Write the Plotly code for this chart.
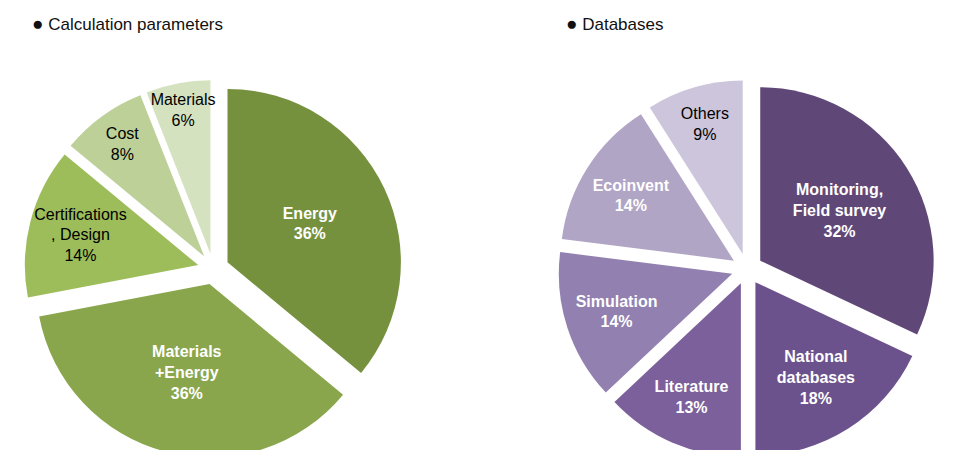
import plotly.graph_objects as go

# Calculation parameters
calc_labels = ["Energy", "Materials<br>+Energy", "Certifications<br>, Design", "Cost", "Materials"]
calc_values = [36, 36, 14, 8, 6]
calc_colors = ["#76913E", "#89A64C", "#9DBC5A", "#BCD098", "#D5E2BF"]
calc_textcol = ["white", "white", "black", "black", "black"]
calc_bold = [True, True, False, False, False]

# Databases
db_labels = ["Monitoring,<br>Field survey", "National<br>databases", "Literature",
             "Simulation", "Ecoinvent", "Others"]
db_values = [32, 18, 13, 14, 14, 9]
db_colors = ["#5F4878", "#6C528C", "#7B609B", "#9180B0", "#B1A5C6", "#CDC5DB"]
db_textcol = ["white", "white", "white", "white", "white", "black"]
db_bold = [True, True, True, True, True, False]

titles = ["Calculation parameters", "Databases"]


def templ(bold):
    return ["<b>%{label}<br>%{percent}</b>" if b else "%{label}<br>%{percent}" for b in bold]


fig = go.Figure()

fig.add_trace(go.Pie(
    labels=calc_labels, values=calc_values, sort=False, direction="clockwise",
    rotation=0, pull=0.09, marker=dict(colors=calc_colors, line=dict(width=0)),
    texttemplate=templ(calc_bold), textposition="inside",
    insidetextorientation="horizontal",
    textfont=dict(family="Liberation Sans, Arial", size=16, color=calc_textcol),
    domain=dict(x=[0.012, 0.419], y=[0.0, 0.84]), showlegend=False,
))

fig.add_trace(go.Pie(
    labels=db_labels, values=db_values, sort=False, direction="clockwise",
    rotation=0, pull=0.09, marker=dict(colors=db_colors, line=dict(width=0)),
    texttemplate=templ(db_bold), textposition="inside",
    insidetextorientation="horizontal",
    textfont=dict(family="Liberation Sans, Arial", size=16, color=db_textcol),
    domain=dict(x=[0.572, 0.979], y=[0.0, 0.84]), showlegend=False,
))

for txt, xpx in zip(titles, [22, 556]):
    fig.add_annotation(x=xpx / 953, y=1 - 3 / 450, xref="paper", yref="paper",
                       text="<span style='font-size:19px'>●</span> " + txt,
                       showarrow=False, xanchor="left", yanchor="top",
                       font=dict(family="Liberation Sans, Arial", size=17, color="#111111"))

fig.update_layout(
    width=953, height=450, margin=dict(l=0, r=0, t=0, b=0),
    paper_bgcolor="white", plot_bgcolor="white",
    uniformtext=dict(minsize=16, mode="show"),
)

fig.write_html("out.html")
